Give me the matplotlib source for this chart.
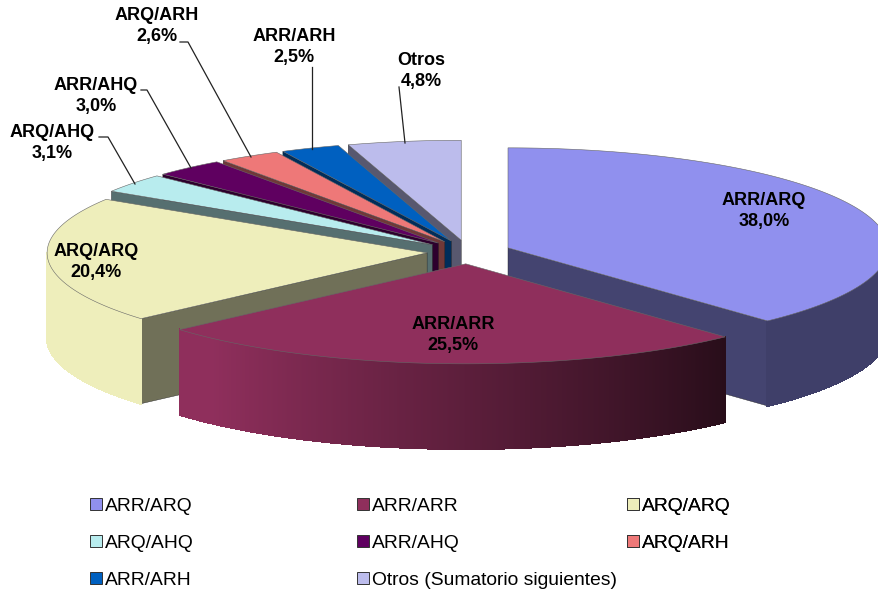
import numpy as np
import matplotlib
matplotlib.use("Agg")
import matplotlib.pyplot as plt
from matplotlib.collections import PolyCollection
from matplotlib.patches import Patch, Polygon

plt.rcParams['font.family'] = ['Liberation Sans', 'DejaVu Sans']

# ---- data ----
categories = ["ARR/ARQ", "ARR/ARR", "ARQ/ARQ", "ARQ/AHQ", "ARR/AHQ", "ARQ/ARH", "ARR/ARH", "Otros"]
values = [38.0, 25.5, 20.4, 3.1, 3.0, 2.6, 2.5, 4.8]
legend_labels = ["ARR/ARQ", "ARR/ARR", "ARQ/ARQ", "ARQ/AHQ", "ARR/AHQ", "ARQ/ARH", "ARR/ARH",
                 "Otros (Sumatorio siguientes)"]
colors = ["#9090EE", "#8F2F5C", "#EEEEBB", "#B8ECEE", "#5F0060", "#EE7878", "#0060C0", "#BCBCEC"]

# ---- layout ----
CX, CY = 468, 252      # pie centre in pixels
RX, RY = 380, 100      # ellipse radii of the top face
HEIGHT = 85            # thickness
explode = [43, 45, 41, 45, 45, 45, 45, 45]
label_xy = [(764, 211), (453, 335), (96, 262), (52, 143), (96, 96), (157, 26), (294, 47), (421, 71)]
leaders = {3: [(99, 137), (108, 137), (135, 184)],
           4: [(141, 90), (147, 90), (191, 168)],
           5: [(180, 42), (188, 42), (251, 157)],
           6: [(312, 67), (312, 149)],
           7: [(399, 87), (405, 143)]}
paint_order = [7, 6, 5, 4, 3, 0, 2, 1]

fig = plt.figure(figsize=(8.79, 5.90), dpi=100)
ax = fig.add_axes([0, 0, 1, 1])
ax.set_xlim(0, 879)
ax.set_ylim(590, 0)
ax.axis("off")

total = sum(values)
edges = np.concatenate([[0], np.cumsum(values)]) / total * 2 * np.pi


def shade(rgb, f):
    return tuple(np.clip(np.array(rgb) * f, 0, 1))


def wall_factor(a):
    d = np.degrees(a)
    if d < 137:
        return 0.44
    return float(np.clip(0.28 + (d - 137) / 85 * 0.72, 0, 1))


z = 1
for i in paint_order:
    a0, a1 = edges[i], edges[i + 1]
    mid = (a0 + a1) / 2
    ax_c = CX + explode[i] * np.sin(mid)
    ay_c = CY - explode[i] * np.cos(mid) * RY / RX
    rgb = matplotlib.colors.to_rgb(colors[i])
    t = np.linspace(a0, a1, max(int((a1 - a0) * 360), 4))
    px = ax_c + RX * np.sin(t)
    py = ay_c - RY * np.cos(t)

    # radial cut faces
    for a, visible in ((a0, np.sin(a0) < -1e-6), (a1, np.sin(a1) > 1e-6)):
        if visible:
            ex, ey = ax_c + RX * np.sin(a), ay_c - RY * np.cos(a)
            ax.add_patch(Polygon([(ax_c, ay_c), (ex, ey), (ex, ey + HEIGHT), (ax_c, ay_c + HEIGHT)],
                                 closed=True, fc=shade(rgb, 0.47), ec="#222222", lw=0.3, zorder=z))
            z += 1

    # outer wall with gradient
    quads, cols = [], []
    for k in range(len(t) - 1):
        if np.cos((t[k] + t[k + 1]) / 2) < 0:
            quads.append([(px[k], py[k]), (px[k + 1], py[k + 1]),
                          (px[k + 1], py[k + 1] + HEIGHT), (px[k], py[k] + HEIGHT)])
            cols.append(shade(rgb, wall_factor((t[k] + t[k + 1]) / 2)))
    if quads:
        ax.add_collection(PolyCollection(quads, facecolors=cols, edgecolors=cols, linewidths=1.0,
                                         antialiaseds=False, zorder=z))
        z += 1

    # top face
    ax.add_patch(Polygon(np.column_stack([np.r_[ax_c, px], np.r_[ay_c, py]]), closed=True,
                         fc=rgb, ec="#666666", lw=0.4, zorder=z))
    z += 1

# leader lines
for pts in leaders.values():
    xs, ys = zip(*pts)
    ax.plot(xs, ys, color="#222222", lw=0.9, zorder=z)
z += 1

# data labels
for name, val, (x, y) in zip(categories, values, label_xy):
    ax.text(x, y, f"{name}\n{val:.1f}%".replace(".", ","), ha="center", va="center",
            fontsize=13, fontweight="bold", color="black", linespacing=1.3, zorder=z)

# legend: three columns
handles = [Patch(fc=c, ec="#333333", lw=0.7) for c in colors]
col_x = [90, 357, 627]
for col in range(3):
    idx = list(range(col, len(values), 3))
    leg = ax.legend([handles[j] for j in idx], [legend_labels[j] for j in idx],
                    loc="upper left", bbox_to_anchor=(col_x[col] / 879, 1 - 498 / 590),
                    frameon=False, fontsize=13.9, handlelength=0.6, handleheight=0.6,
                    handletextpad=0.2, borderpad=0, borderaxespad=0, labelspacing=1.03)
    ax.add_artist(leg)

fig.savefig("out.png", dpi=100, facecolor="white")
